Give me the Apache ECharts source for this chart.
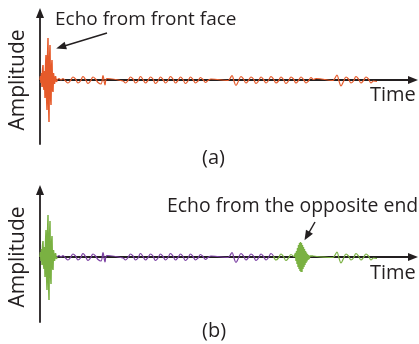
<!DOCTYPE html>
<html>
<head>
<meta charset="utf-8">
<script src="https://cdn.jsdelivr.net/npm/echarts@6/dist/echarts.min.js"></script>
<style>html,body{margin:0;padding:0;background:#fff}#c{width:419px;height:344px}</style>
</head>
<body>
<div id="c"></div>
<script>
// Time axis (arbitrary units) and amplitude (arbitrary units)
var burstA = [[0,0],[0.5,4],[1,-3],[1.5,7],[2,-7],[2.5,10],[3,15],[3.5,-6],[4,-10],[4.5,9],[5,-18],[5.5,12],[6,25],[6.5,-14],[7,-30],[7.5,20],[8,42],[8.5,-20],[9,-42],[9.5,18],[10,35],[10.5,-15],[11,-25],[11.5,12],[12,20],[12.5,-9],[13,-12],[13.5,7],[14,9],[14.5,-4],[15,-6],[15.5,4],[16,3],[16.5,-2],[17,0]];
var noiseA = [[17,0],[19,1.5],[21,0],[23,1.5],[25.5,-1],[28,-3],[30.5,-0.5],[33,3],[35.5,1],[38,-3],[40.5,-1],[43,3.5],[45.5,0.5],[48,-3.5],[50.5,-1],[53,3],[55.5,1],[58,-2.5],[61,-4],[63,4.5],[65,-5],[67,1.5],[83,-1],[85.5,-3],[88,-0.5],[90.5,3],[93,1],[95.5,-3],[98,-1],[100.5,3.5],[103,0.5],[105.5,-3],[108,-0.5],[110.5,3],[113,1],[115.5,-3.5],[118,-1],[120.5,3],[123,0.5],[125.5,-3],[128,-0.5],[130.5,3.5],[133,1],[135.5,-3],[138,-0.5],[140.5,3],[143,0.5],[145.5,-3.5],[148,-1],[150.5,3],[153,0.5],[155.5,-3],[158,-1],[160.5,2.5],[163,0.5],[165.5,-2.5],[168,-0.5],[171,1],[188,-0.5],[190,1.5],[192,4.5],[194,-1],[196,-5.5],[198.5,-1],[201,3.5],[203.5,1],[206,-3],[208.5,-0.5],[211,3],[213.5,1],[216,-3.5],[218.5,-1],[221,3],[223.5,0.5],[226,-3],[228.5,-0.5],[231,3.5],[233.5,1],[236,-3],[238.5,-1],[241,3],[243.5,0.5],[246,-3.5],[248.5,-1],[251,3],[253.5,1],[256,-3],[258.5,-0.5],[261,3],[263.5,0.5],[266,-3],[268.5,-1],[271,2.5],[273.5,0.5],[276,1.5],[293,-0.5],[295,2],[297,5],[299,-1],[301,-6],[303.5,-1.5],[306,3],[308.5,1],[311,-3],[313.5,-1],[316,3.5],[318.5,1],[321,-3],[323.5,-0.5],[326,3],[328.5,1],[331,-3],[333.5,-1],[337,-1.5]];

var burstB1 = [[0,0],[0.5,5],[1,-4],[1.5,8],[2,-8],[2.5,11],[3,16],[3.5,-7],[4,-12],[4.5,10],[5,-20],[5.5,13],[6,27],[6.5,-15],[7,-33],[7.5,21],[8,42],[8.5,-22],[9,-43],[9.5,19],[10,36],[10.5,-16],[11,-27],[11.5,13],[12,21],[12.5,-10],[13,-13],[13.5,7],[14,9],[14.5,-4],[15,-6],[15.5,4],[16,3],[16.5,-2],[17,0]];
var purpleB = [[17,0],[19,1.5],[21,0],[23,1.5],[25.5,-1],[28,-3],[30.5,-0.5],[33,3],[35.5,1],[38,-3],[40.5,-1],[43,3.5],[45.5,0.5],[48,-3.5],[50.5,-1],[53,3],[55.5,1],[58,-2.5],[61,-4],[63,4.5],[65,-5],[67,1.5],[83,-1],[85.5,-3],[88,-0.5],[90.5,3],[93,1],[95.5,-3],[98,-1],[100.5,3.5],[103,0.5],[105.5,-3],[108,-0.5],[110.5,3],[113,1],[115.5,-3.5],[118,-1],[120.5,3],[123,0.5],[125.5,-3],[128,-0.5],[130.5,3.5],[133,1],[135.5,-3],[138,-0.5],[140.5,3],[143,0.5],[145.5,-3.5],[148,-1],[150.5,3],[153,0.5],[155.5,-3],[158,-1],[160.5,2.5],[163,0.5],[165.5,-2.5],[168,-0.5],[171,1],[188,-0.5],[190,1.5],[192,4.5],[194,-1],[196,-5.5],[198.5,-1],[201,3.5],[203.5,1],[206,-3],[208.5,-0.5],[211,3],[213.5,1],[216,-3.5],[218.5,-1],[221,3],[223.5,0.5],[226,-3],[228.5,-0.5],[231,3.5],[233.5,1]];
var greenB1 = [[233.5,1],[236,-3],[238.5,-1],[241,3],[243.5,0.5],[246,-3.5],[248.5,-1],[251,2.5],[254,0]];
var burstB2 = [[254,0],[254.5,2],[255,-2],[255.5,4],[256,-4],[256.5,6],[257,-7],[257.5,9],[258,-10],[258.5,12],[259,-12],[259.5,14],[260,-14],[260.5,15],[261,-15],[261.5,14],[262,-15],[262.5,12],[263,-12],[263.5,10],[264,-10],[264.5,8],[265,-8],[265.5,6],[266,-6],[266.5,4.5],[267,-4.5],[267.5,3],[268,-3],[268.5,2],[269,-2],[270,1],[271,-0.5],[272,0.5],[273,1]];
var greenB2 = [[273,1],[293,-0.5],[295,2],[297,5],[299,-1],[301,-6],[303.5,-1.5],[306,3],[308.5,1],[311,-3],[313.5,-1],[316,3.5],[318.5,1],[321,-3],[323.5,-0.5],[326,3],[328.5,1],[331,-3],[333.5,-1],[337,-1.5]];

// annotation arrows (tail -> head) in data units
var arrowA = [[67,47],[21,33]];
var arrowB = [[275,35],[267,21]];

var axisName = 'Amplitude', timeName = 'Time';
var labelA = 'Echo from front face', labelB = 'Echo from the opposite end';
var panelA = '(a)', panelB = '(b)';

var ORANGE = '#e65a2a', GREEN = '#7ab142', PURPLE = '#7b3fa3', AX = '#231f20';
var FONT = '"Open Sans", "Noto Sans", sans-serif';

var chart = echarts.init(document.getElementById('c'), null, {renderer:'canvas'});

function xAx(i){
  return {gridIndex:i, type:'value', min:0, max:373,
    axisLine:{onZero:true, symbol:['none','triangle'], symbolSize:[8,10], lineStyle:{color:AX, width:1.8}},
    axisTick:{show:false}, axisLabel:{show:false}, splitLine:{show:false}};
}
function yAx(i,min,max){
  return {gridIndex:i, type:'value', min:min, max:max,
    axisLine:{onZero:false, symbol:['none','triangle'], symbolSize:[8,10], lineStyle:{color:AX, width:1.8}},
    axisTick:{show:false}, axisLabel:{show:false}, splitLine:{show:false}};
}
function ser(i, data, color, smooth, width, ml){
  var s = {type:'line', xAxisIndex:i, yAxisIndex:i, data:data, showSymbol:false, symbol:'none',
    smooth:smooth, lineStyle:{color:color, width:width}, silent:true, animation:false, z:3};
  if (ml) {
    s.markLine = {silent:true, symbol:['none','triangle'], symbolSize:[8,10], label:{show:false},
      lineStyle:{color:AX, width:1.5, type:'solid'}, emphasis:{disabled:true},
      data:[[{coord:ml[0]},{coord:ml[1]}]]};
  }
  return s;
}
function txt(x,y,t,size,align,rot){
  return {type:'text', x:x, y:y, rotation:rot||0, silent:true,
    style:{text:t, fill:AX, font:size+'px '+FONT, align:align||'left', verticalAlign:'middle'}};
}

chart.setOption({
  animation:false,
  grid:[{left:40, right:6, top:13, height:131},{left:40, right:6, top:190, height:132}],
  xAxis:[xAx(0), xAx(1)],
  yAxis:[yAx(0,-64,67), yAx(1,-65,67)],
  series:[
    ser(0, burstA, ORANGE, false, 1.5),
    ser(0, noiseA, ORANGE, 0.4, 1.2, arrowA),
    ser(1, burstB1, GREEN, false, 1.5),
    ser(1, purpleB, PURPLE, 0.4, 1.2),
    ser(1, greenB1, GREEN, 0.4, 1.2),
    ser(1, burstB2, GREEN, false, 1.4, arrowB),
    ser(1, greenB2, GREEN, 0.4, 1.2)
  ],
  graphic:[
    txt(55,20,labelA,19),
    txt(167,206,labelB,19.4),
    txt(18,80,axisName,21,'center',Math.PI/2),
    txt(18,257,axisName,21,'center',Math.PI/2),
    txt(370,95,timeName,20),
    txt(370,273,timeName,20),
    txt(202,158,panelA,20),
    txt(202,331,panelB,20)
  ]
});
</script>
</body>
</html>
